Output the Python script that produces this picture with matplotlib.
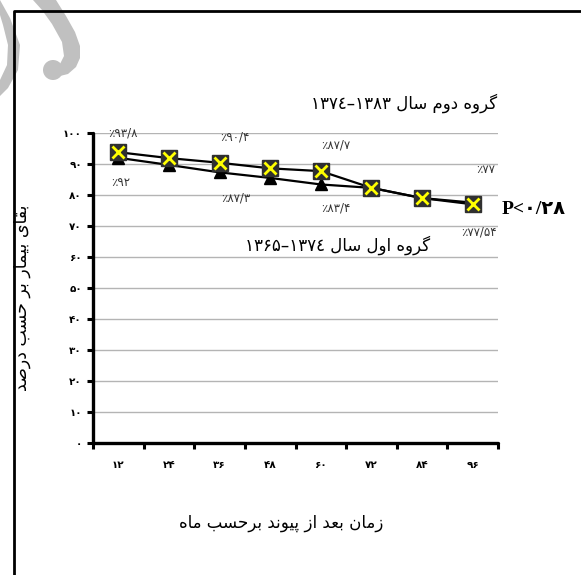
import matplotlib
matplotlib.use("Agg")
import matplotlib.pyplot as plt
from matplotlib.patches import Polygon, Circle

# ---- data ----
months = [12, 24, 36, 48, 60, 72, 84, 96]
group2 = [93.8, 91.9, 90.4, 88.6, 87.7, 82.3, 79.0, 77.0]   # 1374-1383
group1 = [92.0, 89.7, 87.3, 85.5, 83.4, 82.3, 79.0, 77.54]  # 1365-1374
label_idx = [0, 2, 4, 7]
y_ticks = [0, 10, 20, 30, 40, 50, 60, 70, 80, 90, 100]

group2_name = "گروه دوم سال"
group2_years = "۱۳۷٤–۱۳۸۳"
group1_name = "گروه اول سال"
group1_years = "۱۳۶۵–۱۳۷٤"
y_title = "بقای بیمار بر حسب درصد"
x_title = "زمان بعد از پیوند برحسب ماه"
p_value = "۰/۲۸"

# label offsets in pixels (dx, dy) for the value labels
g2_offsets = [(5, 19), (15, 26), (15, 26), (13, 35)]
g1_offsets = [(2, -25), (16, -26), (15, -24), (6, -29)]

FA = str.maketrans("0123456789.", "۰۱۲۳۴۵۶۷۸۹/")

# presentation forms: iso, fin, ini, med (None -> letter does not join forward)
FORMS = {
    "ا": (0xFE8D, 0xFE8E, None, None),
    "ب": (0xFE8F, 0xFE90, 0xFE91, 0xFE92),
    "پ": (0xFB56, 0xFB57, 0xFB58, 0xFB59),
    "ح": (0xFEA1, 0xFEA2, 0xFEA3, 0xFEA4),
    "د": (0xFEA9, 0xFEAA, None, None),
    "ر": (0xFEAD, 0xFEAE, None, None),
    "ز": (0xFEAF, 0xFEB0, None, None),
    "س": (0xFEB1, 0xFEB2, 0xFEB3, 0xFEB4),
    "ص": (0xFEB9, 0xFEBA, 0xFEBB, 0xFEBC),
    "ع": (0xFEC9, 0xFECA, 0xFECB, 0xFECC),
    "ق": (0xFED5, 0xFED6, 0xFED7, 0xFED8),
    "گ": (0xFB92, 0xFB93, 0xFB94, 0xFB95),
    "ل": (0xFEDD, 0xFEDE, 0xFEDF, 0xFEE0),
    "م": (0xFEE1, 0xFEE2, 0xFEE3, 0xFEE4),
    "ن": (0xFEE5, 0xFEE6, 0xFEE7, 0xFEE8),
    "ه": (0xFEE9, 0xFEEA, 0xFEEB, 0xFEEC),
    "و": (0xFEED, 0xFEEE, None, None),
    "ی": (0xFBFC, 0xFBFD, 0xFBFE, 0xFBFF),
}


def rtl(text):
    out = []
    for i, ch in enumerate(text):
        if ch not in FORMS:
            out.append(ch)
            continue
        prev = text[i - 1] if i > 0 else ""
        nxt = text[i + 1] if i + 1 < len(text) else ""
        join_prev = prev in FORMS and FORMS[prev][2] is not None
        join_next = FORMS[ch][2] is not None and nxt in FORMS
        iso, fin, ini, med = FORMS[ch]
        if join_prev and join_next:
            code = med
        elif join_prev:
            code = fin
        elif join_next:
            code = ini
        else:
            code = iso
        out.append(chr(code))
    return "".join(reversed(out))


def fa(v):
    return f"{v:g}".translate(FA)


plt.rcParams["font.family"] = ["DejaVu Sans"]

W, H = 581, 575
fig = plt.figure(figsize=(W / 100, H / 100), dpi=100)

# background layer in pixel coordinates: frame and watermark
bg = fig.add_axes([0, 0, 1, 1], zorder=0)
bg.set_xlim(0, W)
bg.set_ylim(H, 0)
bg.axis("off")
wm = "#c0c0c0"
bg.add_patch(Polygon([(56, 0), (66, 16), (75, 32), (80, 46), (80, 58), (76, 67),
                      (68, 74), (60, 76), (60, 64), (64, 56), (62, 42), (52, 24),
                      (42, 10), (33, 0)],
                     closed=True, facecolor=wm, edgecolor="none"))
bg.add_patch(Circle((53, 70), 10, facecolor=wm, edgecolor="none"))
bg.add_patch(Polygon([(0, 0), (10, 18), (20, 45), (18, 70), (8, 88), (0, 96),
                      (0, 80), (7, 65), (8, 45), (3, 25), (0, 15)],
                     closed=True, facecolor=wm, edgecolor="none"))
bg.plot([14, 14, W], [H, 11, 11], color="black", lw=2, solid_capstyle="butt")

ax = fig.add_axes([93 / W, 1 - 443 / H, (498 - 93) / W, (443 - 133) / H], zorder=1)
ax.patch.set_visible(False)

x = [i + 0.5 for i in range(len(months))]
ax.plot(x, group1, color="black", lw=1.6, marker="^", ms=9,
        mfc="black", mec="black", zorder=3)
ax.plot(x, group2, color="black", lw=1.6, marker="s", ms=11,
        mfc="#303030", mec="#303030", zorder=4)
ax.plot(x, group2, ls="none", marker="x", ms=9, mew=2,
        color="#ffff00", zorder=5)

for k, (dx, dy) in zip(label_idx, g2_offsets):
    ax.annotate("٪" + fa(group2[k]), (x[k], group2[k]), xytext=(dx, dy),
                textcoords="offset pixels", ha="center", va="center",
                fontsize=8.5, color="#333333")
for k, (dx, dy) in zip(label_idx, g1_offsets):
    ax.annotate("٪" + fa(group1[k]), (x[k], group1[k]), xytext=(dx, dy),
                textcoords="offset pixels", ha="center", va="center",
                fontsize=8.5, color="#333333")

ax.set_xlim(0, len(months))
ax.set_ylim(0, 100)
ax.set_yticks(y_ticks)
ax.set_yticklabels([fa(v) for v in y_ticks], fontsize=7.5, fontweight="bold")
ax.set_xticks(range(len(months) + 1))
ax.set_xticklabels([])
ax.set_xticks(x, minor=True)
ax.set_xticklabels([fa(m) for m in months], minor=True, fontsize=7.5, fontweight="bold")
ax.tick_params(axis="x", which="minor", length=0, pad=12)
ax.tick_params(axis="x", which="major", length=4, width=2.2, direction="out")
ax.tick_params(axis="y", length=4, width=2.2, pad=4)

ax.grid(axis="y", color="#b4b4b4", lw=1)
ax.set_axisbelow(True)
for side in ("top", "right"):
    ax.spines[side].set_visible(False)
for side in ("left", "bottom"):
    ax.spines[side].set_linewidth(2.4)
    ax.spines[side].set_capstyle("round")

# texts placed in pixel space of the background layer
bg.text(497, 103, group2_years + " " + rtl(group2_name), ha="right", va="center",
        fontsize=12, zorder=6)
bg.text(430, 245, group1_years + " " + rtl(group1_name), ha="right", va="center",
        fontsize=12, zorder=6)
bg.text(502, 209, "P<" + p_value, ha="left", va="center", fontsize=14,
        fontweight="bold", family=["Liberation Serif", "DejaVu Sans"], zorder=6)
bg.text(281, 523, rtl(x_title), ha="center", va="center", fontsize=12)
bg.text(22, 298, rtl(y_title), ha="center", va="center", rotation=90, fontsize=12.5)

# bring texts of bg above main axes
bg.set_zorder(2)
bg.patch.set_visible(False)

fig.savefig("out.png", dpi=100)
